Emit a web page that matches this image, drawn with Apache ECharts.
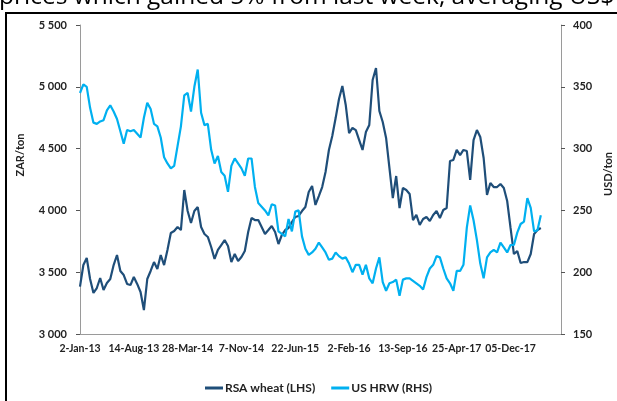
<!DOCTYPE html>
<html>
<head>
<meta charset="utf-8">
<script src="https://cdn.jsdelivr.net/npm/echarts@6/dist/echarts.min.js"></script>
<style>
  html, body { margin: 0; padding: 0; background: #fff; }
  #chart { width: 617px; height: 401px; }
</style>
</head>
<body>
<div id="chart"></div>
<script>
// x axis: trading-day index, one label every 160 trading days
const xLabels = ['2-Jan-13', '14-Aug-13', '28-Mar-14', '7-Nov-14', '22-Jun-15',
  '2-Feb-16', '13-Sep-16', '25-Apr-17', '05-Dec-17'];
const sampleStep = 10; // trading days between samples

// RSA wheat, ZAR/ton (LHS)
const rsaWheat = [
  3383, 3558, 3615, 3445, 3332, 3372, 3453, 3356, 3413, 3445,
  3558, 3639, 3510, 3477, 3405, 3396, 3461, 3405, 3340, 3194,
  3445, 3510, 3582, 3526, 3639, 3558, 3680, 3817, 3833, 3866,
  3841, 4165, 3995, 3898, 3995, 4027, 3866, 3809, 3785, 3704,
  3607, 3680, 3720, 3760, 3712, 3582, 3647, 3591, 3623, 3671,
  3825, 3938, 3922, 3922, 3866, 3809, 3841, 3874, 3825, 3728,
  3801, 3841, 3858, 3906, 3947, 3955, 3995, 4027, 4149, 4197,
  4044, 4116, 4189, 4311, 4489, 4602, 4747, 4901, 5006, 4853,
  4626, 4667, 4650, 4569, 4489, 4634, 4691, 5055, 5152, 4804,
  4715, 4586, 4343, 4100, 4278, 4019, 4181, 4165, 4133, 3922,
  3963, 3882, 3930, 3947, 3914, 3963, 3995, 3938, 4003, 4019,
  4400, 4408, 4489, 4448, 4489, 4480, 4246, 4569, 4650, 4594,
  4424, 4125, 4222, 4189, 4189, 4214, 4181, 4076, 3858, 3647,
  3671, 3574, 3582, 3582, 3647, 3809, 3841, 3858
];

// US HRW, USD/ton (RHS)
const usHrw = [
  345, 352, 350, 333, 321, 320, 322, 323, 331, 335,
  330, 324, 314, 304, 315, 314, 315, 312, 309, 325,
  337, 332, 320, 318, 309, 293, 288, 284, 286, 302,
  318, 343, 345, 330, 350, 364, 329, 319, 320, 299,
  288, 294, 281, 278, 265, 286, 292, 288, 284, 278,
  292, 292, 269, 256, 253, 250, 246, 255, 254, 233,
  231, 229, 243, 233, 249, 250, 229, 219, 214, 216,
  219, 224, 220, 216, 210, 211, 216, 213, 211, 212,
  207, 200, 206, 206, 198, 206, 195, 191, 203, 212,
  192, 185, 191, 192, 194, 181, 194, 195, 195, 193,
  191, 189, 186, 196, 203, 206, 213, 212, 203, 195,
  191, 185, 201, 201, 206, 236, 254, 242, 226, 207,
  195, 212, 216, 218, 216, 224, 220, 216, 222, 222,
  232, 239, 241, 260, 252, 233, 234, 246
];

const FONT = 'Lato';
const LABEL = { color: '#222', fontFamily: FONT, fontWeight: 'bold', fontSize: 11 };
const AXIS_GREY = '#9a9a9a';

const fmtThousands = v => String(v).replace(/\B(?=(\d{3})+(?!\d))/g, ' ');

const chart = echarts.init(document.getElementById('chart'));

chart.setOption({
  backgroundColor: '#fff',
  animation: false,
  textStyle: { fontFamily: FONT },

  grid: { left: 80, right: 56, top: 25, bottom: 67 },

  legend: {
    left: 200,
    top: 377,
    icon: 'rect',
    itemWidth: 18,
    itemHeight: 3,
    itemGap: 16,
    textStyle: { ...LABEL, fontSize: 12, padding: [0, 0, 0, -3] },
    data: ['RSA wheat (LHS)', 'US HRW (RHS)']
  },

  xAxis: {
    type: 'value',
    min: 0,
    max: 1430,
    interval: 160,
    axisLine: { lineStyle: { color: AXIS_GREY, width: 1 } },
    axisTick: { show: false },
    splitLine: { show: false },
    axisLabel: {
      ...LABEL,
      fontSize: 10.5,
      margin: 9,
      formatter: v => (v % 160 === 0 ? (xLabels[v / 160] || '') : '')
    }
  },

  yAxis: [
    {
      type: 'value',
      min: 3000,
      max: 5500,
      interval: 500,
      position: 'left',
      axisLine: { show: true, lineStyle: { color: AXIS_GREY } },
      axisTick: { show: true, length: 4, lineStyle: { color: '#555' } },
      splitLine: { show: false },
      axisLabel: { ...LABEL, margin: 13, formatter: fmtThousands }
    },
    {
      type: 'value',
      min: 150,
      max: 400,
      interval: 50,
      position: 'right',
      axisLine: { show: true, lineStyle: { color: AXIS_GREY } },
      axisTick: { show: true, length: 4, lineStyle: { color: '#555' } },
      splitLine: { show: false },
      axisLabel: { ...LABEL, margin: 12 }
    }
  ],

  graphic: [
    {
      type: 'rect',
      shape: { x: 6, y: 13, width: 700, height: 500 },
      style: { fill: 'none', stroke: '#000', lineWidth: 2 },
      silent: true
    },
    {
      type: 'text',
      x: -1, y: -3,
      style: {
        text: 'prices which gained 5% from last week, averaging US$',
        fontFamily: 'Open Sans', fontSize: 24.5, fill: '#000',
        align: 'left', verticalAlign: 'middle'
      }
    },
    {
      type: 'text',
      x: 20, y: 155,
      rotation: Math.PI / 2,
      style: {
        text: 'ZAR/ton', fontFamily: FONT, fontWeight: 'bold', fontSize: 11,
        fill: '#222', align: 'center', verticalAlign: 'middle'
      }
    },
    {
      type: 'text',
      x: 608, y: 174,
      rotation: Math.PI / 2,
      style: {
        text: 'USD/ton', fontFamily: FONT, fontWeight: 'bold', fontSize: 11,
        fill: '#222', align: 'center', verticalAlign: 'middle'
      }
    }
  ],

  series: [
    {
      name: 'RSA wheat (LHS)',
      type: 'line',
      yAxisIndex: 0,
      showSymbol: false,
      color: '#1f4e79',
      lineStyle: { width: 2.2, color: '#1f4e79' },
      data: rsaWheat.map((v, i) => [i * sampleStep, v])
    },
    {
      name: 'US HRW (RHS)',
      type: 'line',
      yAxisIndex: 1,
      showSymbol: false,
      color: '#00b0f0',
      lineStyle: { width: 2.2, color: '#00b0f0' },
      data: usHrw.map((v, i) => [i * sampleStep, v])
    }
  ]
});
</script>
</body>
</html>
